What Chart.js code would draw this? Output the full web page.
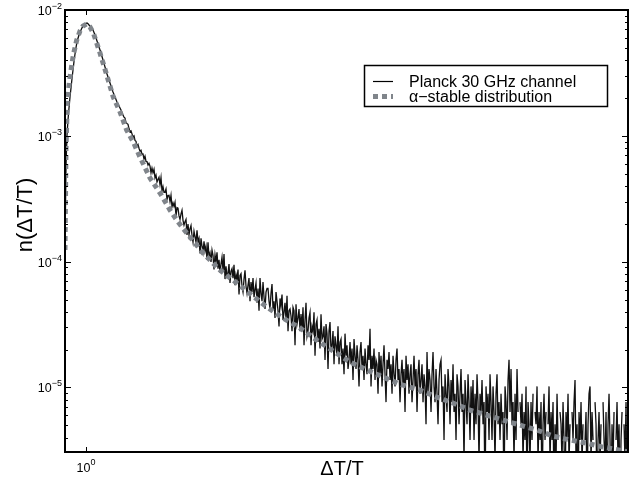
<!DOCTYPE html>
<html>
<head>
<meta charset="utf-8">
<script src="https://cdn.jsdelivr.net/npm/chart.js@4.4.1/dist/chart.umd.min.js"></script>
<style>
  html, body { margin: 0; padding: 0; background: #fff; }
  #wrap { width: 635px; height: 489px; }
</style>
</head>
<body>
<div id="wrap"><canvas id="chart" width="635" height="489"></canvas></div>
<script>
// ====================================================== DATA ====================================================== //

// histogram bins are log-spaced, bin i sits at binStart * binRatio^i
const binStart = 0.97, binRatio = 1.0014557;
// one count of the histogram in n(dT/T) units
const countScale = 1.275e-6;

// Planck 30 GHz channel, counts per bin
const planckCounts = [
  106, 450, 796, 1050, 1305, 1600, 1882, 2240, 2615, 3060, 3506, 3940, 4366, 4680, 4963, 5210,
  5439, 5660, 5851, 5970, 6072, 6150, 6184,
  6090, 5962, 5830, 5696, 5570, 5439, 5200, 4963, 4700, 4448, 4210, 3984, 3775, 3571, 3350, 3141,
  2950, 2763, 2595, 2432, 2300, 2179, 2065, 1952, 1850, 1749, 1670, 1596, 1525, 1456, 1400, 1353,
  1305, 1258, 1200, 1148, 1105,
  1085, 997, 981, 968, 896, 844, 858, 813, 769, 784, 721, 710, 645, 669, 625, 592, 603, 561, 562,
  513, 540, 491, 489, 459, 474, 451,
  399, 435, 400, 425, 363, 382, 337, 352, 367, 321, 365, 286, 309, 279, 279, 296, 245, 263, 264,
  235, 264, 214, 230, 216, 232, 181, 211, 209, 181, 170, 188, 201, 167, 153, 163, 170, 128,
  156, 128, 143, 152, 126, 112, 137, 124, 112, 139, 113, 120, 91, 120, 104, 93, 114, 95, 104, 81,
  112, 86, 92, 78, 97, 88, 68, 89, 78, 93, 69, 81, 64, 75, 85, 66, 90, 57, 72, 60,
  63, 75, 53, 66, 69, 58, 74, 51, 62, 57, 68, 43, 61, 63, 50, 45, 57, 67, 50, 44,
  51, 58, 38, 54, 45, 58, 41, 47, 53, 37, 48, 32, 58, 44, 38, 54, 41, 33, 45, 48,
  48, 38, 33, 44, 52, 33, 38, 28, 45, 38, 32, 24, 40, 35, 43, 27, 31, 37, 27, 42,
  22, 32, 33, 29, 22, 34, 32, 17, 36, 25, 28, 33, 22, 30, 23, 34, 17, 27, 37, 20,
  22, 28, 31, 17, 24, 22, 31, 14, 25, 27, 18, 23, 16, 30, 19, 20, 24, 13, 25, 21,
  11, 22, 26, 15, 17, 22, 12, 20, 17, 14, 24, 12, 18,
  19, 12, 16, 10, 21, 14, 17, 11, 13, 18,
  12, 16, 9, 19, 14, 11, 17, 13, 8, 15,
  18, 11, 14, 9, 16, 12, 10, 17, 13, 23,
  8, 14, 11, 16, 9, 13, 12, 7, 15, 10,
  14, 8, 12, 17, 10, 6, 13, 11, 15, 9,
  12, 7, 14, 10, 8, 13, 16, 9, 11, 6,
  10, 13, 8, 11, 5, 14, 9, 12, 7, 10,
  12, 6, 9, 14, 8, 11, 5, 10, 13, 7,
  9, 12, 6, 10, 8, 4, 15, 7, 11, 9,
  5, 10, 15, 8, 6, 11, 7, 4, 9, 12,
  13, 6, 8, 3, 10, 7, 5, 11, 8, 4,
  9, 6, 12, 5, 7, 3, 10, 8, 4, 7,
  11, 5, 7, 2, 9, 6, 4, 10, 6, 3,
  8, 5, 9, 3, 7, 4, 10, 6, 2, 7,
  5, 9, 4, 6, 1, 8, 5, 7, 3, 10,
  6, 3, 8, 5, 2, 7, 10, 4, 6, 3,
  7, 4, 5, 1, 8, 6, 3, 9, 13, 5,
  11, 4, 6, 2, 7, 3, 11, 5, 0, 6,
  4, 7, 2, 5, 3, 8, 1, 6, 4, 2,
  6, 3, 7, 0, 5, 4, 8, 2, 5, 3,
  6, 1, 4, 7, 3, 5, 0, 4, 8, 2,
  5, 3, 6, 1, 4, 2, 7, 3, 0, 5,
  4, 2, 6, 3, 1, 5, 3, 7, 2, 4,
  0, 5, 3, 6, 9, 2, 4, 1, 5, 3,
  6, 2, 4, 0, 3, 5, 1, 4, 7, 8,
  2, 5, 3, 0, 6, 4, 1, 3, 5, 2,
  4, 0, 6, 3, 2, 5, 1, 4, 7, 3,
  1, 4, 2, 5, 0, 3, 6, 2, 4, 1,
  3, 5, 0, 4, 2, 6, 1, 3
];

// alpha-stable fit
const stableX = [0.97, 0.9714, 0.9733, 0.9771, 0.9818, 0.9867, 0.9914, 0.9957, 1.0008, 1.0059,
  1.0108, 1.0207, 1.0307, 1.0406, 1.0508, 1.0611, 1.0713, 1.0818, 1.0977, 1.1138,
  1.1301, 1.1433, 1.1579, 1.1857, 1.2153, 1.2452, 1.2635, 1.3008, 1.3320, 1.3653,
  1.3989, 1.4325, 1.4683, 1.5044, 1.5405, 1.5791, 1.6257, 1.6657, 1.7056, 1.7483,
  1.7913, 1.8343, 1.8802, 1.9264, 1.9726, 2.0220, 2.0717, 2.1214, 2.1749, 2.2];
const stableY = [1.24e-4, 7.71e-4, 1.93e-3, 2.93e-3, 4.39e-3, 5.77e-3, 6.81e-3, 7.46e-3, 7.74e-3, 7.33e-3,
  6.57e-3, 4.55e-3, 3.04e-3, 2.03e-3, 1.55e-3, 1.11e-3, 8.93e-4, 6.78e-4, 4.62e-4, 3.51e-4,
  2.57e-4, 2.07e-4, 1.69e-4, 1.17e-4, 8.57e-5, 6.76e-5, 5.84e-5, 4.36e-5, 3.56e-5, 2.97e-5,
  2.38e-5, 1.95e-5, 1.59e-5, 1.38e-5, 1.21e-5, 1.06e-5, 9.53e-6, 8.39e-6, 7.52e-6, 6.61e-6,
  6.03e-6, 5.51e-6, 5.02e-6, 4.59e-6, 4.11e-6, 3.82e-6, 3.61e-6, 3.36e-6, 3.18e-6, 3.07e-6];

// ticks & texts
const yTickValues = [1e-2, 1e-3, 1e-4, 1e-5];
const yTickExps   = ['\u22122', '\u22123', '\u22124', '\u22125'];
const xTickValues = [1];
const xTickExps   = ['0'];
const legendLabels = ['Planck 30 GHz channel', '\u03b1\u2212stable distribution'];
const xTitle = '\u0394T/T', yTitle = 'n(\u0394T/T)';

// ===================================================== DRAWING ===================================================== //

const FONT = '"Liberation Sans", Arial, Helvetica, sans-serif';
const GRAY = '#80858b';

const planckData = planckCounts.map((c, i) => ({x: binStart * Math.pow(binRatio, i), y: c * countScale}));
const stableData = stableX.map((x, i) => ({x, y: stableY[i]}));

// frame, inward ticks, labels, titles and legend
const axesDecor = {
  id: 'axesDecor',
  afterDatasetsDraw(chart) {
    const {ctx, chartArea: a, scales: {x, y}} = chart;
    ctx.save();
    ctx.fillStyle = '#000';
    ctx.strokeStyle = '#000';

    // y ticks, major + minor, both sides
    ctx.lineWidth = 1;
    ctx.beginPath();
    for (let e = -6; e <= -2; e++) {
      for (let m = 1; m <= 9; m++) {
        const v = m * Math.pow(10, e);
        if (v < y.min || v > y.max * 1.0001) continue;
        const py = Math.round(y.getPixelForValue(v)) + 0.5, len = m == 1 ? 6 : 3;
        ctx.moveTo(a.left, py);  ctx.lineTo(a.left + len, py);
        ctx.moveTo(a.right, py); ctx.lineTo(a.right - len, py);
      }
    }
    // x ticks, top + bottom
    xTickValues.forEach(v => {
      const px = Math.round(x.getPixelForValue(v)) + 0.5;
      ctx.moveTo(px, a.bottom); ctx.lineTo(px, a.bottom - 5);
      ctx.moveTo(px, a.top);    ctx.lineTo(px, a.top + 5);
    });
    ctx.stroke();

    // frame
    ctx.lineWidth = 2;
    ctx.strokeRect(a.left, a.top, a.right - a.left, a.bottom - a.top);

    // y tick labels: 10 + superscript
    ctx.textBaseline = 'alphabetic';
    yTickValues.forEach((v, i) => {
      const py = y.getPixelForValue(v);
      ctx.font = '9px ' + FONT;
      const ew = ctx.measureText(yTickExps[i]).width;
      ctx.textAlign = 'left';
      ctx.fillText(yTickExps[i], a.left - 3 - ew, py - 1);
      ctx.font = '12.5px ' + FONT;
      ctx.textAlign = 'right';
      ctx.fillText('10', a.left - 3 - ew, py + 5);
    });

    // x tick labels
    xTickValues.forEach((v, i) => {
      const px = x.getPixelForValue(v);
      ctx.font = '12.5px ' + FONT;
      const bw = ctx.measureText('10').width;
      ctx.font = '9px ' + FONT;
      const ew = ctx.measureText(xTickExps[i]).width;
      const x0 = px - (bw + ew) / 2;
      ctx.textAlign = 'left';
      ctx.fillText(xTickExps[i], x0 + bw, a.bottom + 13);
      ctx.font = '12.5px ' + FONT;
      ctx.fillText('10', x0, a.bottom + 20);
    });

    // axis titles
    ctx.textAlign = 'center';
    ctx.textBaseline = 'middle';
    ctx.font = '20px ' + FONT;
    ctx.fillText(xTitle, 342, 469);
    ctx.save();
    ctx.translate(26, 215);
    ctx.rotate(-Math.PI / 2);
    ctx.font = '22px ' + FONT;
    ctx.fillText(yTitle, 0, 0);
    ctx.restore();

    // legend
    ctx.fillStyle = '#fff';
    ctx.fillRect(364, 65, 244, 42);
    ctx.lineWidth = 1.5;
    ctx.strokeRect(364.5, 65.5, 243, 41);
    ctx.lineWidth = 1.2;
    ctx.beginPath(); ctx.moveTo(373, 81.5); ctx.lineTo(393, 81.5); ctx.stroke();
    ctx.strokeStyle = GRAY; ctx.lineWidth = 5; ctx.setLineDash([5, 4]);
    ctx.beginPath(); ctx.moveTo(373, 96.5); ctx.lineTo(393, 96.5); ctx.stroke();
    ctx.setLineDash([]);
    ctx.fillStyle = '#000';
    ctx.font = '16px ' + FONT;
    ctx.textAlign = 'left';
    ctx.textBaseline = 'alphabetic';
    ctx.fillText(legendLabels[0], 409, 87);
    ctx.fillText(legendLabels[1], 409, 102);
    ctx.restore();
  }
};

new Chart(document.getElementById('chart'), {
  type: 'line',
  data: {
    datasets: [
      {label: legendLabels[0], data: planckData, borderColor: '#111', borderWidth: 1.3,
       pointRadius: 0, tension: 0, order: 2},
      {label: legendLabels[1], data: stableData, borderColor: GRAY, borderWidth: 5, borderDash: [5, 4],
       pointRadius: 0, tension: 0, order: 1}
    ]
  },
  options: {
    responsive: false,
    animation: false,
    devicePixelRatio: 1,
    layout: {padding: {left: 65, right: 7, top: 10, bottom: 37}},
    scales: {
      x: {type: 'logarithmic', min: 0.97, max: 2.2, display: false},
      y: {type: 'logarithmic', min: 3.07e-6, max: 1e-2, display: false}
    },
    plugins: {legend: {display: false}, tooltip: {enabled: false}}
  },
  plugins: [axesDecor]
});
</script>
</body>
</html>
